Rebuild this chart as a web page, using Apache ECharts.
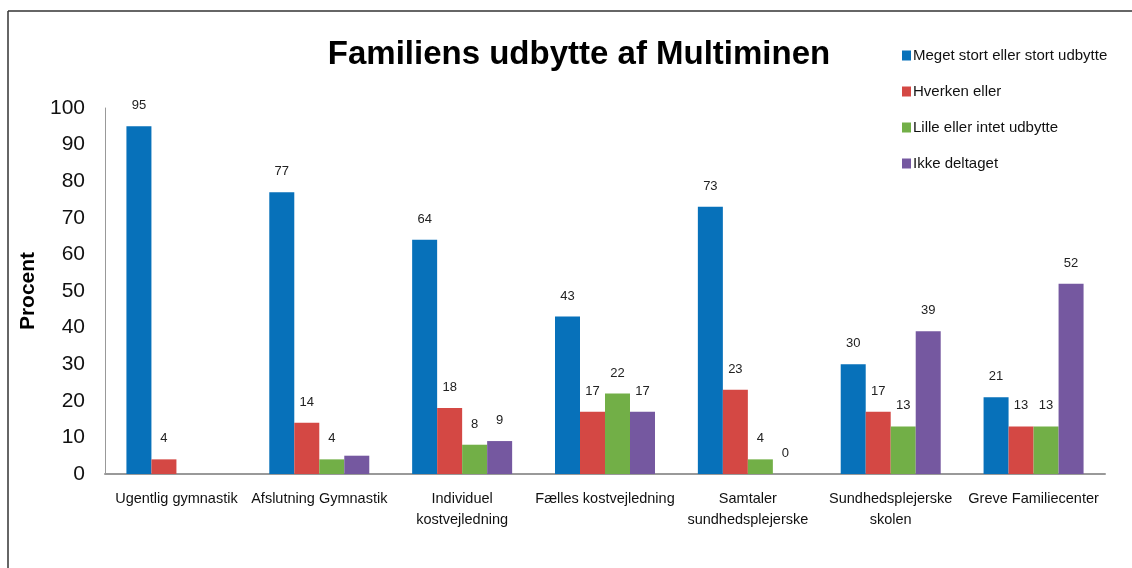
<!DOCTYPE html>
<html><head><meta charset="utf-8">
<script src="https://cdn.jsdelivr.net/npm/echarts@6/dist/echarts.min.js"></script>
<style>html,body{margin:0;padding:0;background:#fff}#c{width:1132px;height:568px}</style>
</head><body><div id="c"></div>
<script>
const categories = ["Ugentlig gymnastik","Afslutning Gymnastik","Individuel\nkostvejledning","Fælles kostvejledning","Samtaler\nsundhedsplejerske","Sundhedsplejerske\nskolen","Greve Familiecenter"];
const seriesNames = ["Meget stort eller stort udbytte","Hverken eller","Lille eller intet udbytte","Ikke deltaget"];
const stortUdbytte = [95,77,64,43,73,30,21];
const hverkenEller = [4,14,18,17,23,17,13];
const lilleUdbytte = [null,4,8,22,4,13,13];
const ikkeDeltaget = [null,5,9,17,0,39,52];
const unlabeled = [[], [], [], [1]]; // category indexes whose value label is not shown, per series
const yTicks = {min:0, max:100, interval:10};
const colors = ["#0771BA","#D44844","#72AF47","#7558A0"];
const font = "'Liberation Sans',sans-serif";

const allValues = [stortUdbytte, hverkenEller, lilleUdbytte, ikkeDeltaget];
const series = allValues.map((vals, si) => ({
  name: seriesNames[si],
  type: 'bar',
  barGap: '0%',
  barCategoryGap: '30%',
  itemStyle: {color: colors[si]},
  label: {show: true, position: 'top', distance: 14, color: '#222', fontSize: 13, fontFamily: font},
  data: vals.map((v, ci) => unlabeled[si].includes(ci) ? {value: v, label: {show: false}} : v)
}));

const chart = echarts.init(document.getElementById('c'));
chart.setOption({
  animation: false,
  title: {text: 'Familiens udbytte af Multiminen', left: 574, top: 33, textAlign: 'center',
    textStyle: {fontSize: 33, fontWeight: 'bold', color: '#000', fontFamily: font}},
  legend: {orient: 'vertical', left: 897, top: 43, itemGap: 21, itemWidth: 9, itemHeight: 10,
    icon: 'rect', textStyle: {fontSize: 15, color: '#111', fontFamily: font, padding: [0,0,0,-3]}},
  grid: {left: 105, right: 27, top: 108, bottom: 94},
  xAxis: {type: 'category', data: categories,
    axisLine: {lineStyle: {color: '#999', width: 2}}, axisTick: {show: false},
    axisLabel: {fontSize: 14.5, color: '#111', margin: 14, lineHeight: 21, fontFamily: font, interval: 0}},
  yAxis: {type: 'value', min: yTicks.min, max: yTicks.max, interval: yTicks.interval,
    name: 'Procent', nameLocation: 'middle', nameGap: 57,
    nameTextStyle: {fontSize: 21, fontWeight: 'bold', color: '#000', fontFamily: font},
    axisLine: {show: true, lineStyle: {color: '#999', width: 1}}, axisTick: {show: false},
    splitLine: {show: false},
    axisLabel: {fontSize: 21, color: '#111', margin: 20, fontFamily: font}},
  graphic: [
    {type: 'line', shape: {x1: 8, y1: 11, x2: 1132, y2: 11}, style: {stroke: '#333', lineWidth: 1.5}},
    {type: 'line', shape: {x1: 8, y1: 11, x2: 8, y2: 568}, style: {stroke: '#333', lineWidth: 1.5}}
  ],
  series: series
});
</script></body></html>
